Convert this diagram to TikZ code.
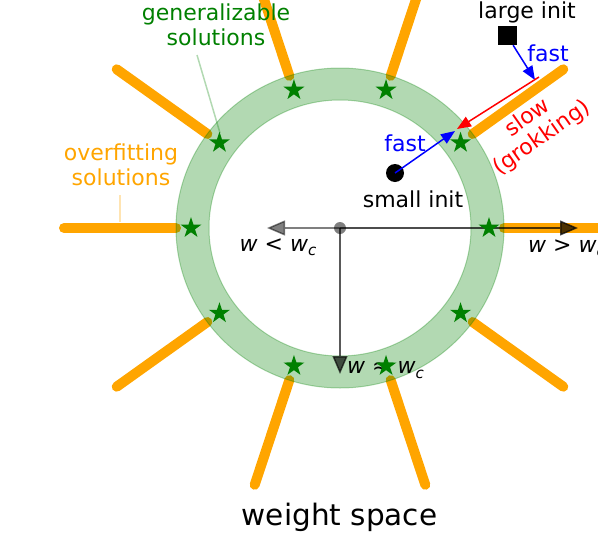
\documentclass[tikz,border=0pt]{standalone}
\usepackage{fontspec}
\setmainfont{DejaVu Sans}
\usetikzlibrary{shapes.geometric,arrows.meta}
\definecolor{og}{RGB}{255,165,0}
\definecolor{gr}{RGB}{0,128,0}
\newcommand\wsub{{\itshape w}\raisebox{-0.35ex}{\fontsize{15}{15}\selectfont\itshape c}}
\begin{document}
\begin{tikzpicture}[x=1pt,y=-1pt,
  orangeline/.style={line width=10pt, og, line cap=round},
  lbl/.style={font=\fontsize{22}{24.5}\selectfont, inner sep=0pt, align=center},
  starmark/.style={star, star points=5, star point ratio=2.6, fill=gr, draw=none, minimum size=22pt, inner sep=0pt},
  axisarrow/.style={line width=1.5pt, -{Triangle[length=18pt,width=15pt]}},
  movearrow/.style={line width=1.5pt, -{Triangle[length=14pt,width=11pt]}},
  pointer/.style={line width=1.5pt, opacity=0.3},
  ]
\useasboundingbox (0,0) rectangle (598,560);
\clip (0,0) rectangle (598,560);
% overfitting solution branches
\foreach \a in {0,36,...,324}
  \draw[orangeline] ({340+164*cos(\a)},{228-160*sin(\a)}) -- ({340+276*cos(\a)},{228-270*sin(\a)});
% ring of generalizable solutions
\fill[gr, fill opacity=0.3, even odd rule] (340,228) ellipse [x radius=164, y radius=160]
      (340,228) ellipse [x radius=131, y radius=128];
\draw[gr, opacity=0.3, line width=1pt] (340,228) ellipse [x radius=164, y radius=160]
      (340,228) ellipse [x radius=131, y radius=128];
% axes
\node[circle, fill=black, opacity=0.5, minimum size=12pt, inner sep=0pt] (o) at (340,228) {};
\coordinate (al) at (267,228);
\coordinate (ar) at (578,228);
\coordinate (ad) at (340,374);
\draw[axisarrow, opacity=0.5] (o.center) -- (al);
\draw[axisarrow, opacity=0.7] (o.center) -- (ar);
\draw[axisarrow, opacity=0.65] (o.center) -- (ad);
\node[lbl] (lless) at (278,247) {{\itshape w} < \wsub};
\node[lbl, anchor=west] (lmore) at (528,248) {{\itshape w} > \wsub};
\node[lbl, anchor=west] (lapprox) at (347,370) {{\itshape w} ≈ \wsub};
% stars
\foreach \a in {0,36,...,324}
  \node[starmark] (s\a) at ({340+149*cos(\a)},{228-145*sin(\a)}) {};
% inits
\node[circle, fill=black, minimum size=18pt, inner sep=0pt] (si) at (395,173) {};
\node[lbl] (silbl) at (413,199) {small init};
\node[fill=black, minimum size=19pt, inner sep=0pt] (li) at (507.5,35.5) {};
\node[lbl] (lilbl) at (527,12) {large init};
\coordinate (t1) at (535,80);
\coordinate (r0) at (539,77);
\coordinate (t2) at (457,129);
\coordinate (t3) at (455,131);
\draw[movearrow, blue] (li.-60) -- (t1);
\draw[movearrow, red] (r0) -- (t2);
\draw[movearrow, blue] (si.center) -- (t3);
\node[lbl, blue] (f1) at (548,53) {fast};
\node[lbl, blue] (f2) at (405,143) {fast};
\node[lbl, red, rotate=35] (slow) at (535,128) {slow\\(grokking)};
% legends
\node[lbl, gr] (gl) at (216,25) {generalizable\\solutions};
\coordinate (gp1) at (197,55);
\coordinate (gp2) at (220,133);
\draw[pointer, gr] (gp1) -- (gp2);
\node[lbl, og] (ol) at (121,165) {overfitting\\solutions};
\coordinate (op1) at (120,195);
\coordinate (op2) at (120,222);
\draw[pointer, og] (op1) -- (op2);
\node[lbl, font=\fontsize{29.5}{32}\selectfont] (ws) at (339.5,517) {weight space};
\end{tikzpicture}
\end{document}
